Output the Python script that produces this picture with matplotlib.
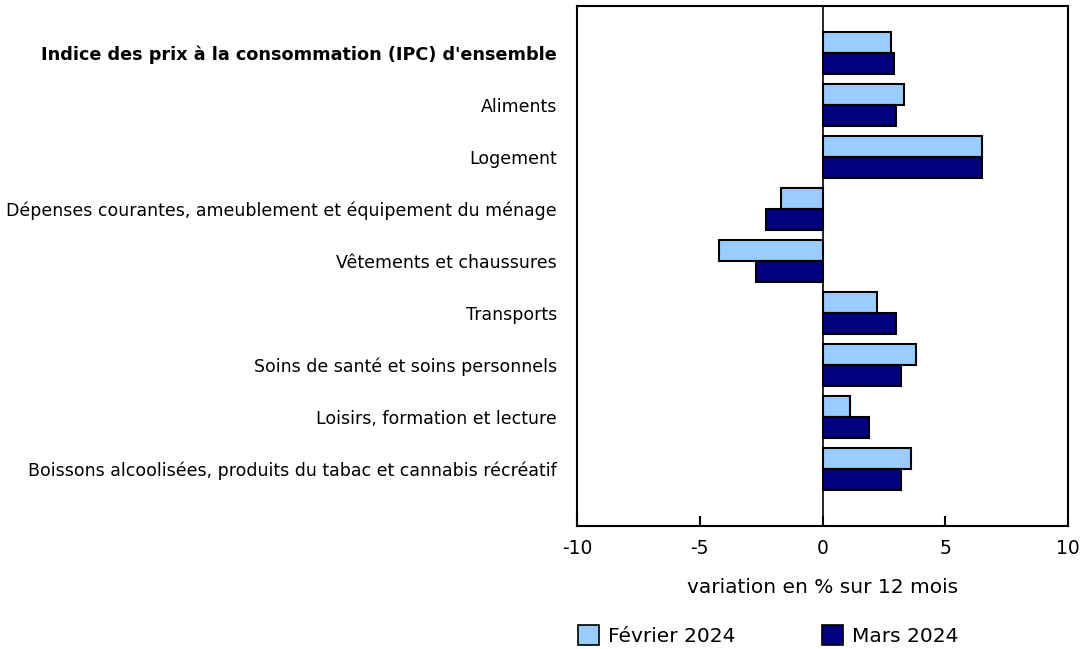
import matplotlib
matplotlib.use("Agg")
import matplotlib.pyplot as plt
import numpy as np
from matplotlib.patches import Patch

categories = [
    "Indice des prix à la consommation (IPC) d'ensemble",
    "Aliments",
    "Logement",
    "Dépenses courantes, ameublement et équipement du ménage",
    "Vêtements et chaussures",
    "Transports",
    "Soins de santé et soins personnels",
    "Loisirs, formation et lecture",
    "Boissons alcoolisées, produits du tabac et cannabis récréatif",
]
fevrier_2024 = [2.8, 3.3, 6.5, -1.7, -4.2, 2.2, 3.8, 1.1, 3.6]
mars_2024 = [2.9, 3.0, 6.5, -2.3, -2.7, 3.0, 3.2, 1.9, 3.2]
series_labels = ["Février 2024", "Mars 2024"]
x_ticks = [-10, -5, 0, 5, 10]

LIGHT = "#99ccff"
DARK = "#000080"

plt.rcParams["font.family"] = ["DejaVu Sans"]

fig = plt.figure(figsize=(10.82, 6.49), dpi=100, facecolor="white")
ax = fig.add_axes([577 / 1082, 1 - 526 / 649, 491 / 1082, 520 / 649])

y = np.arange(len(categories))
h = 0.4
ax.barh(y - h / 2, fevrier_2024, height=h, color=LIGHT, edgecolor="black", linewidth=1.5)
ax.barh(y + h / 2, mars_2024, height=h, color=DARK, edgecolor="black", linewidth=1.5)
ax.axvline(0, color="black", linewidth=1.2)

ax.set_xlim(-10, 10)
ax.set_ylim(len(categories) - 1 + 1.1, -0.9)
ax.set_xticks(x_ticks)
ax.set_xticklabels([str(t) for t in x_ticks], fontsize=13.5)
ax.tick_params(axis="x", direction="in", length=7, width=1.5, pad=9.5)
ax.set_yticks(y)
ax.set_yticklabels(categories, fontsize=12.5)
ax.get_yticklabels()[0].set_fontweight("bold")
ax.get_yticklabels()[0].set_fontsize(12.7)
ax.tick_params(axis="y", length=0, pad=14.4)
for s in ax.spines.values():
    s.set_linewidth(1.5)

ax.set_xlabel("variation en % sur 12 mois", fontsize=14.5, labelpad=14)

handles = [Patch(facecolor=LIGHT, edgecolor="black", linewidth=1.2),
           Patch(facecolor=DARK, edgecolor="black", linewidth=1.2)]
fig.legend(handles, series_labels, loc="lower left", bbox_to_anchor=(560 / 1082, -0.023),
           ncol=2, frameon=False, fontsize=14.5, handlelength=1.04, handleheight=1.12,
           handletextpad=0.43, columnspacing=4.33)

fig.savefig("out.png", dpi=100, facecolor="white")
